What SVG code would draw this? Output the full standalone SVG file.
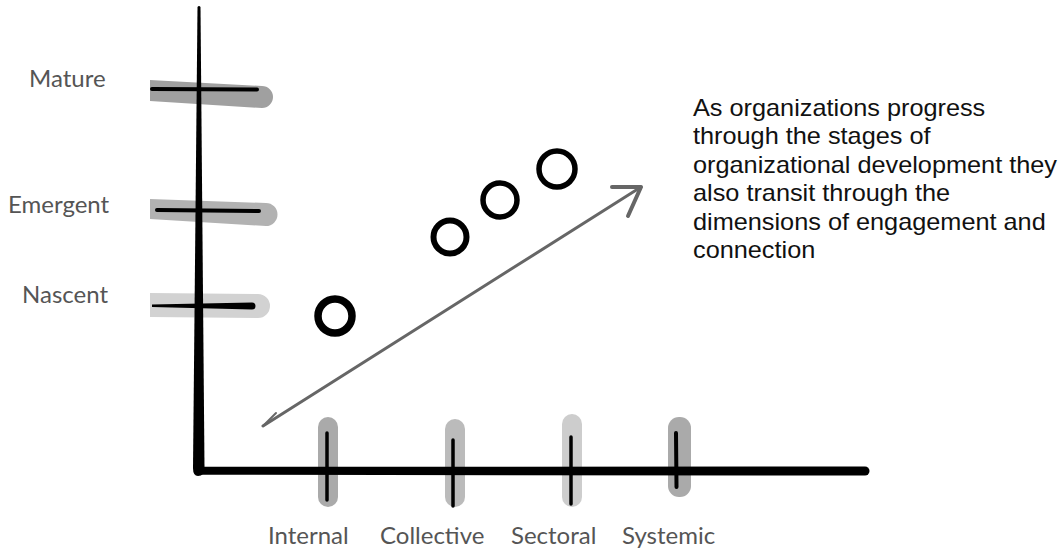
<svg xmlns="http://www.w3.org/2000/svg" width="1064" height="550" viewBox="0 0 1064 550">
<style>
.lbl{font-family:Lato,"Open Sans","Noto Sans",sans-serif;font-size:24px;fill:#555}
.note{font-family:"Liberation Sans",Arial,sans-serif;font-size:23px;fill:#111}
.tick{stroke:#000;stroke-linecap:round;fill:none}
.ring{fill:none;stroke:#000}
.arrow{stroke:#666;stroke-linecap:round;stroke-linejoin:round;fill:none}
</style>
<rect width="1064" height="550" fill="#fff"/>
<g id="y-axis">
<path d="M150,80 L262,86 A11,11 0 0 1 262,108 L150,101 Z" fill="#a0a0a0"/>
<path d="M150,199 L266,203 A11.5,11.5 0 0 1 266,226 L150,219 Z" fill="#b2b2b2"/>
<path d="M150,293 L258,294 A12,12 0 0 1 258,318 L150,317 Z" fill="#d2d2d2"/>
<line class="tick" x1="152" y1="89" x2="257" y2="89.5" stroke-width="4"/>
<line class="tick" x1="157" y1="210" x2="259" y2="211" stroke-width="4"/>
<path d="M152,304.5 L252,302.5 A3.5,3.5 0 0 1 252,309.5 L152,307 Z" fill="#000"/>
<path d="M197.5,7 Q199,5 200.5,7 L204.5,468 Q204.5,476 198,476 Q193,476 193,468 Z" fill="#000"/>
</g>
<g id="x-axis">
<rect x="318" y="417" width="20" height="90" rx="10" fill="#aaa"/>
<rect x="445" y="419" width="20" height="88" rx="10" fill="#bbb"/>
<rect x="562" y="414" width="20" height="93" rx="10" fill="#cdcdcd"/>
<rect x="668" y="417" width="23" height="80" rx="11" fill="#aaa"/>
<path d="M198,466.8 L865,466.5 A4.5,4.5 0 0 1 865,475.5 L198,474.8 Z" fill="#000"/>
<line class="tick" x1="327" y1="433" x2="327" y2="500" stroke-width="3.5"/>
<line class="tick" x1="453" y1="440" x2="453" y2="506" stroke-width="3.5"/>
<line class="tick" x1="571" y1="437" x2="571" y2="504" stroke-width="3.5"/>
<line class="tick" x1="676" y1="433" x2="676.5" y2="487" stroke-width="4"/>
</g>
<g id="label-mature"><text class="lbl" x="29" y="87">Mature</text></g>
<g id="label-emergent"><text class="lbl" x="8" y="213">Emergent</text></g>
<g id="label-nascent"><text class="lbl" x="22" y="303">Nascent</text></g>
<g id="label-internal"><text class="lbl" x="268" y="544">Internal</text></g>
<g id="label-collective"><text class="lbl" x="380" y="544">Collective</text></g>
<g id="label-sectoral"><text class="lbl" x="511" y="544">Sectoral</text></g>
<g id="label-systemic"><text class="lbl" x="622" y="544">Systemic</text></g>
<g id="stage-1"><circle class="ring" cx="335" cy="316" r="17" stroke-width="7.5"/></g>
<g id="stage-2"><circle class="ring" cx="450" cy="237" r="16.5" stroke-width="6"/></g>
<g id="stage-3"><circle class="ring" cx="500" cy="200" r="17" stroke-width="5.5"/></g>
<g id="stage-4"><circle class="ring" cx="557" cy="169" r="18" stroke-width="5.5"/></g>
<g id="connectors">
<line class="arrow" x1="263" y1="426" x2="641" y2="187" stroke-width="3"/>
<polyline class="arrow" points="612,187 641,187 628,216" stroke-width="4"/>
<line class="arrow" x1="263" y1="426" x2="276" y2="413" stroke-width="2"/>
</g>
<g id="note">
<g transform="translate(693 0) scale(1.1 1)">
<text class="note" x="0" y="116">As organizations progress</text>
<text class="note" x="0" y="144.5">through the stages of</text>
<text class="note" x="0" y="173">organizational development they</text>
<text class="note" x="0" y="201.5">also transit through the</text>
<text class="note" x="0" y="230">dimensions of engagement and</text>
<text class="note" x="0" y="258.5">connection</text>
</g>
</g>
</svg>
